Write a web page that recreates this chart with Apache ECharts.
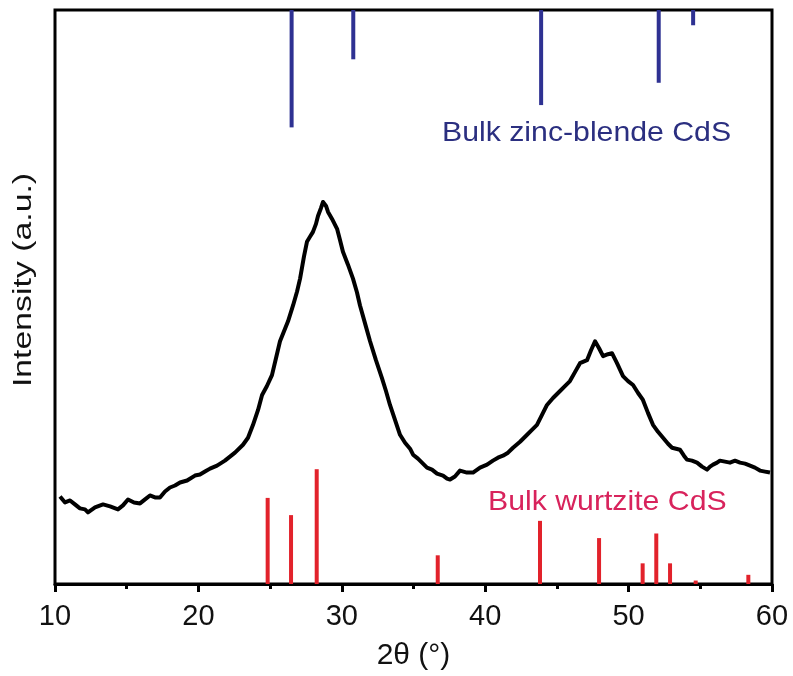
<!DOCTYPE html>
<html>
<head>
<meta charset="utf-8">
<script src="https://cdn.jsdelivr.net/npm/echarts@6/dist/echarts.min.js"></script>
<style>
  html, body { margin: 0; padding: 0; background: #fff; }
  #chart { width: 793px; height: 676px; }
</style>
</head>
<body>
<div id="chart"></div>
<script>
// Measured XRD pattern of the CdS nanocrystals (2θ in degrees, intensity in arbitrary units)
const twoTheta = [
  10.35, 10.70, 11.05, 11.39, 11.74, 12.09, 12.30, 12.79, 13.35, 13.84,
  14.39, 14.74, 15.09, 15.51, 15.93, 16.28, 16.62, 16.97, 17.32, 17.67,
  18.02, 18.37, 18.72, 19.21, 19.76, 20.11, 20.46, 20.81, 21.30, 21.85,
  22.20, 22.55, 23.11, 23.46, 23.81, 24.16, 24.44, 24.78, 25.13, 25.41,
  25.69, 25.97, 26.25, 26.60, 26.88, 27.09, 27.36, 27.57, 27.78, 27.99,
  28.20, 28.34, 28.55, 28.69, 28.90, 29.04, 29.32, 29.67, 29.87, 30.08,
  30.43, 30.78, 31.06, 31.27, 31.62, 31.97, 32.38, 32.80, 33.08, 33.36,
  33.71, 34.06, 34.41, 34.76, 34.97, 35.31, 35.59, 35.94, 36.29, 36.64,
  37.06, 37.34, 37.55, 37.89, 38.24, 38.73, 39.15, 39.64, 40.13, 40.54,
  40.89, 41.24, 41.59, 41.94, 42.43, 42.92, 43.26, 43.61, 43.96, 44.31,
  44.73, 45.22, 45.56, 45.91, 46.26, 46.61, 47.10, 47.38, 47.66, 47.94,
  48.22, 48.56, 48.84, 49.19, 49.61, 49.96, 50.31, 50.66, 51.00, 51.35,
  51.70, 52.05, 52.40, 52.75, 53.03, 53.31, 53.58, 53.86, 54.07, 54.42,
  54.77, 55.12, 55.47, 55.68, 55.89, 56.17, 56.37, 56.72, 57.07, 57.42,
  57.77, 58.12, 58.47, 58.81, 59.16, 59.51, 59.86
];
const intensity = [
   88,  82,  84,  80,  76,  75,  72,  77,  80,  78,
   75,  79,  85,  82,  81,  85,  89,  87,  87,  93,
   97,  99, 102, 104, 109, 110, 113, 116, 119, 124,
  128, 132, 140, 147, 160, 175, 190, 199, 210, 227,
  244, 254, 264, 280, 294, 307, 329, 344, 349, 354,
  362, 370, 378, 384, 380, 374, 367, 357, 346, 334,
  321, 307, 293, 280, 262, 244, 225, 207, 194, 180,
  165, 150, 142, 136, 130, 126, 122, 117, 115, 111,
  109, 106, 105, 108, 114, 112, 112, 117, 120, 124,
  127, 129, 132, 137, 143, 150, 155, 160, 170, 180,
  187, 194, 199, 204, 213, 222, 225, 235, 244, 237,
  229, 231, 232, 222, 209, 204, 200, 192, 185, 172,
  160, 153, 147, 141, 137, 136, 135, 129, 125, 124,
  122, 118, 115, 118, 120, 122, 124, 123, 122, 124,
  122, 121, 119, 117, 114, 113, 112
];

// Reference line positions and relative intensities, bulk zinc-blende CdS
const zbPos = [26.5, 30.8, 43.9, 52.1, 54.5];
const zbInt = [100, 42, 81, 62, 13];

// Reference line positions and relative intensities, bulk wurtzite CdS
const wzPos = [24.83, 26.46, 28.25, 36.69, 43.82, 47.94, 50.98, 51.93, 52.89, 54.68, 58.35];
const wzInt = [75, 60, 100, 25, 55, 40, 18, 44, 18, 3, 8];

// Axis ticks
const xTicks = [10, 20, 30, 40, 50, 60];

const FONT = '"Liberation Sans", Arial, Helvetica, sans-serif';
const BLUE = '#2e3192';
const RED = '#e2222b';

const chart = echarts.init(document.getElementById('chart'), null, { renderer: 'canvas' });

function stick(params, api) {
  const x = api.value(0);
  const base = api.coord([x, 0]);
  const tip = api.coord([x, api.value(1)]);
  return {
    type: 'line',
    shape: { x1: base[0], y1: base[1], x2: tip[0], y2: tip[1] },
    style: { stroke: api.visual('color'), lineWidth: 4 }
  };
}

const hiddenY = { type: 'value', show: false, splitLine: { show: false } };

chart.setOption({
  animation: false,
  backgroundColor: '#fff',
  grid: {
    left: 55, right: 21, top: 10, bottom: 89,
    show: true, borderColor: '#000', borderWidth: 3
  },
  xAxis: {
    type: 'value',
    min: xTicks[0], max: xTicks[xTicks.length - 1], interval: 10,
    name: '2θ (°)',
    nameLocation: 'middle',
    nameGap: 57,
    nameTextStyle: { fontFamily: FONT, fontSize: 30, color: '#111' },
    axisLine: { show: true, lineStyle: { color: '#000', width: 3 } },
    axisTick: { show: true, inside: false, length: 8, lineStyle: { color: '#000', width: 3 } },
    minorTick: { show: true, splitNumber: 2, length: 5, lineStyle: { color: '#000', width: 3 } },
    axisLabel: { margin: 18, fontFamily: FONT, fontSize: 29, color: '#111' },
    splitLine: { show: false }
  },
  yAxis: [
    Object.assign({ min: 0, max: 577 }, hiddenY),
    Object.assign({ min: 0, max: 489, inverse: true }, hiddenY),
    Object.assign({ min: 0, max: 500 }, hiddenY)
  ],
  graphic: [
    {
      type: 'text', x: 24, y: 280, rotation: Math.PI / 2, scaleX: 1.3,
      style: { text: 'Intensity (a.u.)', font: '26px ' + FONT, fill: '#111',
               textAlign: 'center', textVerticalAlign: 'middle' }
    },
    {
      type: 'text', x: 442, y: 133, scaleX: 1.08,
      style: { text: 'Bulk zinc-blende CdS', font: '28px ' + FONT, fill: '#2b2f80',
               textAlign: 'left', textVerticalAlign: 'middle' }
    },
    {
      type: 'text', x: 488, y: 502, scaleX: 1.08,
      style: { text: 'Bulk wurtzite CdS', font: '28px ' + FONT, fill: '#d8235c',
               textAlign: 'left', textVerticalAlign: 'middle' }
    }
  ],
  series: [
    {
      type: 'custom',
      yAxisIndex: 1,
      renderItem: stick,
      itemStyle: { color: BLUE },
      data: zbPos.map((p, i) => [p, zbInt[i]]),
      z: 3
    },
    {
      type: 'custom',
      yAxisIndex: 2,
      renderItem: stick,
      itemStyle: { color: RED },
      data: wzPos.map((p, i) => [p, wzInt[i]]),
      z: 3
    },
    {
      type: 'line',
      yAxisIndex: 0,
      data: twoTheta.map((t, i) => [t, intensity[i]]),
      showSymbol: false,
      symbol: 'none',
      lineStyle: { color: '#000', width: 4, join: 'round' },
      z: 4
    }
  ]
});
</script>
</body>
</html>
